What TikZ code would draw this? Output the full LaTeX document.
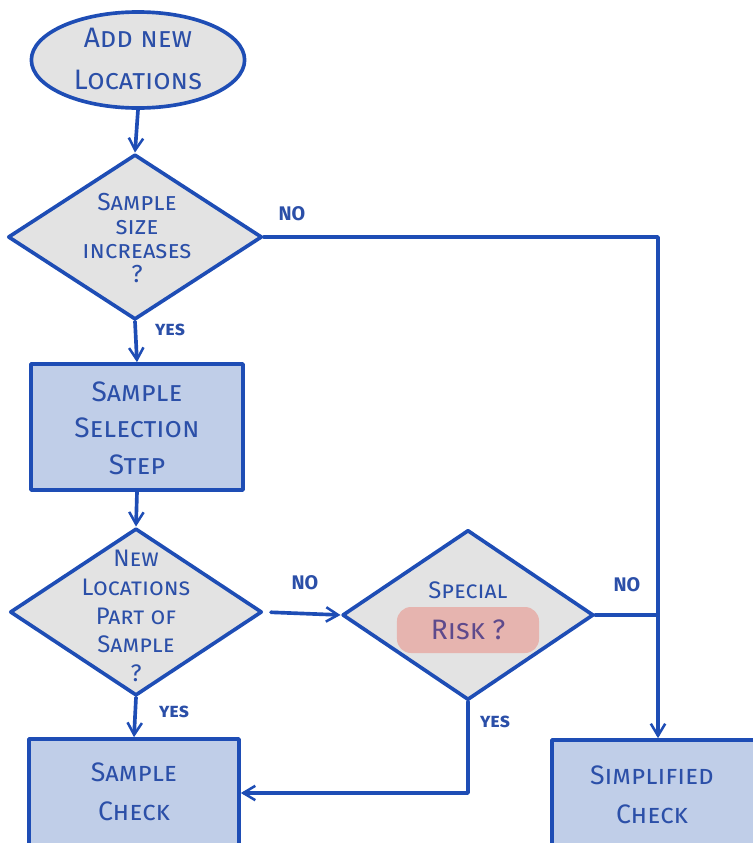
\documentclass[tikz,border=0pt]{standalone}
\usepackage{fontspec}
\setmainfont{Fira Sans}
\usepackage{tikz}
\usetikzlibrary{arrows.meta, positioning, shapes.geometric}
\definecolor{penblue}{HTML}{1E4DB5}
\definecolor{inkblue}{HTML}{2B4FA8}
\definecolor{padgray}{HTML}{E3E3E3}
\definecolor{boxblue}{HTML}{C0CEE8}
\definecolor{markpink}{HTML}{E6B4AF}
\definecolor{markink}{HTML}{5E4A8C}

\begin{document}
\begin{tikzpicture}[
  x=0.025cm, y=-0.025cm,
  flow/.style={draw=penblue, line width=2.6pt, line cap=round, line join=round},
  arrowline/.style={flow, -{Straight Barb[length=3mm, width=3.6mm, line width=1.8pt]}},
  startnode/.style={ellipse, flow, fill=padgray, minimum width=5.33cm,
    minimum height=2.4cm, inner sep=0pt},
  decision/.style={diamond, flow, fill=padgray, inner sep=0pt},
  process/.style={rectangle, flow, fill=boxblue, inner sep=0pt},
  handtext/.style={text=inkblue, align=center, font=\scshape},
  lbl/.style={text=inkblue, font=\fontsize{14}{15}\selectfont\bfseries}
]
  % clip to the sheet
  \clip (0,0) rectangle (753,843);

  % Start
  \node[startnode] (start) at (138,60) {};
  \node[handtext, font=\fontsize{20}{30}\selectfont\scshape] (starttxt) at (138,59)
    {Add new\\Locations};

  % Sample size question
  \node[decision, minimum width=6.35cm, minimum height=4.13cm] (dec1) at (135,237) {};
  \node[handtext, font=\fontsize{17.5}{17}\selectfont\scshape] (dec1txt) at (137,238)
    {Sample\\size\\increases\\?};

  % Sample selection
  \node[process, minimum width=5.3cm, minimum height=3.15cm] (sel) at (137,427) {};
  \node[handtext, font=\fontsize{20}{26}\selectfont\scshape] (seltxt) at (137,428)
    {Sample\\Selection\\Step};

  % Part of sample question
  \node[decision, minimum width=6.3cm, minimum height=4.18cm] (dec2) at (136,612) {};
  \node[handtext, font=\fontsize{17}{20.5}\selectfont\scshape] (dec2txt) at (136,616)
    {New\\Locations\\Part of\\Sample\\?};

  % Special risk question
  \node[decision, minimum width=6.28cm, minimum height=4.25cm] (risk) at (468,615) {};
  \node[handtext, font=\fontsize{17}{18}\selectfont\scshape] (risktop) at (468,590)
    {Special};
  \node[fill=markpink, rounded corners=10pt, minimum width=3.55cm, minimum height=1.15cm,
    text=markink, font=\fontsize{20}{22}\selectfont\scshape] (riskmark) at (468,630)
    {Risk ?};

  % Checks
  \node[process, minimum width=5.25cm, minimum height=2.7cm] (sample) at (134,793) {};
  \node[handtext, font=\fontsize{19}{28}\selectfont\scshape] (sampletxt) at (134,792)
    {Sample\\Check};
  \node[process, minimum width=5.3cm, minimum height=2.7cm] (simple) at (658,794) {};
  \node[handtext, font=\fontsize{19}{28}\selectfont\scshape] (simpletxt) at (652,795)
    {Simplified\\Check};

  % Connectors
  \draw[arrowline] (start.south) -- (dec1.north);
  \draw[arrowline] (dec1.south) -- (sel.north);
  \draw[arrowline] (sel.south) -- (dec2.north);
  \draw[arrowline] (dec2.south) -- (sample.north);
  \draw[arrowline, shorten <=5pt] (dec2.east) -- (risk.west);
  \draw[arrowline] (dec1.east) -| (simple.north);
  \draw[flow] (risk.east) -- (risk.east -| simple.north);
  \draw[arrowline] (risk.south) |- (sample.east);

  % Branch labels
  \node[lbl] (no1) at (292,214) {NO};
  \node[lbl] (yes1) at (170,330) {\scshape yes};
  \node[lbl] (no2) at (305,583) {NO};
  \node[lbl] (yes2) at (174,712) {\scshape yes};
  \node[lbl] (no3) at (627,585) {NO};
  \node[lbl] (yes3) at (495,722) {\scshape yes};
\end{tikzpicture}
\end{document}
